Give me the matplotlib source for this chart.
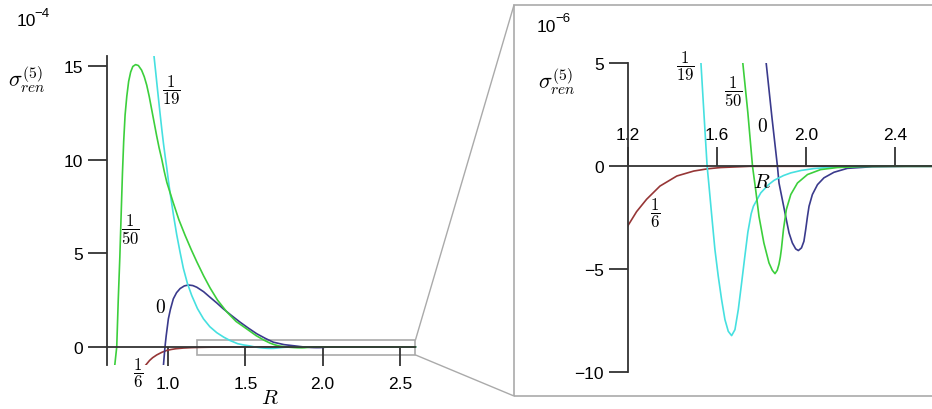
import numpy as np
import matplotlib
matplotlib.use('Agg')
import matplotlib.pyplot as plt
from matplotlib.patches import Rectangle, ConnectionPatch

plt.rcParams['font.family'] = ['Liberation Sans', 'DejaVu Sans']
plt.rcParams['mathtext.fontset'] = 'cm'

# sigma_ren^(5) vs R, values in units of 1e-6
r_050 = [0.655, 0.668, 0.678, 0.688, 0.697, 0.705, 0.713, 0.722, 0.733, 0.745,
         0.758, 0.772, 0.790, 0.808, 0.829, 0.846, 0.862, 0.878, 0.894, 0.910,
         0.926, 0.942, 0.959, 0.975, 0.992, 1.013, 1.034, 1.070, 1.110, 1.150,
         1.186, 1.230, 1.272, 1.320, 1.380, 1.440, 1.509, 1.570, 1.620, 1.660,
         1.690, 1.717, 1.740, 1.761, 1.775, 1.790, 1.812, 1.835, 1.850, 1.862,
         1.872, 1.880, 1.886, 1.891, 1.900, 1.913, 1.933, 1.963, 2.008, 2.067,
         2.142, 2.250, 2.400, 2.600]
s_050 = [-100, 0, 257, 480, 720, 930, 1100, 1240, 1340, 1420,
         1470, 1500, 1510, 1505, 1480, 1445, 1400, 1340, 1270, 1200,
         1130, 1065, 1005, 940, 880, 825, 770, 680, 597, 520,
         455, 380, 315, 250, 187, 136, 96, 60, 36, 20,
         11, 5.05, 2.6, 0, -1.13, -2.43, -3.72, -4.69, -5.05, -5.21,
         -5.05, -4.75, -4.4, -4.0, -3.07, -2.10, -1.37, -0.81, -0.40, -0.16,
         -0.06, -0.01, 0, 0]

r_019 = [0.909, 0.920, 0.930, 0.948, 0.960, 0.970, 0.981, 0.992, 1.002, 1.013,
         1.035, 1.056, 1.078, 1.099, 1.125, 1.153, 1.190, 1.229, 1.270, 1.315,
         1.360, 1.401, 1.450, 1.490, 1.529, 1.543, 1.557, 1.565, 1.578, 1.592,
         1.607, 1.622, 1.637, 1.652, 1.667, 1.682, 1.697, 1.712, 1.725, 1.740,
         1.755, 1.765, 1.798, 1.832, 1.858, 1.900, 1.933, 1.980, 2.037, 2.120,
         2.250, 2.600]
s_019 = [1556, 1470, 1390, 1250, 1160, 1090, 1020, 955, 890, 825,
         705, 600, 505, 420, 340, 275, 205, 150, 108, 76,
         52, 34, 17, 10, 5.05, 2.5, 0, -0.9, -2.43, -4.04,
         -5.34, -6.47, -7.44, -8.01, -8.22, -7.93, -6.96, -5.66, -4.5, -3.2,
         -2.3, -1.94, -1.29, -0.90, -0.68, -0.45, -0.32, -0.20, -0.11, -0.04,
         0, 0]

r_000 = [0.970, 0.974, 0.978, 0.982, 0.988, 0.995, 1.002, 1.015, 1.034, 1.055,
         1.078, 1.105, 1.131, 1.160, 1.186, 1.230, 1.272, 1.315, 1.358, 1.410,
         1.466, 1.520, 1.574, 1.630, 1.681, 1.750, 1.822, 1.848, 1.873, 1.880,
         1.895, 1.910, 1.925, 1.940, 1.955, 1.967, 1.981, 1.992, 2.000, 2.008,
         2.015, 2.030, 2.053, 2.082, 2.127, 2.187, 2.300, 2.450, 2.600]
s_000 = [-100, -60, -20, 15, 60, 105, 150, 200, 257, 290,
         312, 326, 331, 328, 319, 295, 265, 235, 203, 168,
         132, 100, 70, 45, 25, 12, 5.05, 2.4, 0, -0.81,
         -1.62, -2.43, -3.23, -3.72, -4.01, -4.09, -3.96, -3.64, -3.07, -2.43,
         -1.94, -1.37, -0.89, -0.56, -0.29, -0.10, -0.02, 0, 0]

r_016 = [0.853, 0.865, 0.880, 0.900, 0.927, 0.960, 0.992, 1.020, 1.050, 1.100,
         1.150, 1.200, 1.240, 1.285, 1.345, 1.421, 1.497, 1.560, 1.618, 1.750,
         2.600]
s_016 = [-100, -88, -73, -58, -43, -29, -19, -14, -10, -6.2,
         -4.1, -2.9, -2.2, -1.6, -0.96, -0.47, -0.23, -0.12, -0.06, 0,
         0]

curves = [
    (r_016, s_016, '#963636'),
    (r_000, s_000, '#3a3a8c'),
    (r_019, s_019, '#46e0e0'),
    (r_050, s_050, '#3ccf3c'),
]

fig = plt.figure(figsize=(9.32, 4.10), dpi=100)
W, H = 932.0, 410.0

# ---- left panel (units of 1e-4) ----
ax1 = fig.add_axes([107 / W, 44 / H, 311.5 / W, 309 / H])
for r, s, c in curves:
    ax1.plot(r, np.array(s) / 100.0, color=c, lw=1.2)
ax1.set_xlim(0.605, 2.62)
ax1.set_ylim(-0.97, 15.56)
ax1.spines['right'].set_visible(False)
ax1.spines['top'].set_visible(False)
ax1.spines['bottom'].set_position(('data', 0))
ax1.spines['bottom'].set_bounds(0.605, 2.6)
for sp in ['left', 'bottom']:
    ax1.spines[sp].set_linewidth(1.3)
    ax1.spines[sp].set_color('#333333')
ax1.set_xticks([1.0, 1.5, 2.0, 2.5])
ax1.set_xticklabels(['1.0', '1.5', '2.0', '2.5'])
ax1.set_yticks([0, 5, 10, 15])
ax1.set_yticklabels(['0', '5', '10', '15'])
ax1.tick_params(axis='x', length=14, width=1.3, color='#333333', pad=7, labelsize=12.5)
ax1.tick_params(axis='y', length=14, width=1.3, color='#333333', pad=3, labelsize=12.5)
ax1.patch.set_visible(False)

frac = 12
ax1.text(1.019, 13.78, r'$\dfrac{1}{19}$', fontsize=frac, ha='center', va='center')
ax1.text(0.754, 6.29, r'$\dfrac{1}{50}$', fontsize=frac, ha='center', va='center')
ax1.text(0.948, 2.13, r'$0$', fontsize=14, ha='center', va='center')
ax1.text(0.806, -1.35, r'$\dfrac{1}{6}$', fontsize=frac, ha='center', va='center')
ax1.text(1.66, -2.69, r'$R$', fontsize=15, ha='center', va='center')

# zoom box
ax1.add_patch(Rectangle((1.19, -0.43), 1.41, 0.79, fill=False, ec='#aaaaaa', lw=1.2,
                        clip_on=False, zorder=1))

fig.text(17 / W, 1 - 22 / H, '10', fontsize=12.5, ha='left', va='center')
fig.text(34 / W, 1 - 14 / H, '\u22124', fontsize=9.5, ha='left', va='center')
fig.text(27 / W, 1 - 80 / H, r'$\sigma^{(5)}_{ren}$', fontsize=16, ha='center', va='center')

# ---- right panel (units of 1e-6) ----
ax2 = fig.add_axes([627.7 / W, 36.7 / H, 311.5 / W, 309 / H])
for r, s, c in curves:
    ax2.plot(r, s, color=c, lw=1.2)
ax2.set_xlim(1.2, 2.6)
ax2.set_ylim(-10, 5)
ax2.spines['right'].set_visible(False)
ax2.spines['bottom'].set_visible(False)
ax2.spines['top'].set_position(('data', 0))
ax2.xaxis.tick_top()
for sp in ['left', 'top']:
    ax2.spines[sp].set_linewidth(1.3)
    ax2.spines[sp].set_color('#333333')
ax2.set_xticks([1.2, 1.6, 2.0, 2.4])
ax2.set_xticklabels(['1.2', '1.6', '2.0', '2.4'])
ax2.set_yticks([-10, -5, 0, 5])
ax2.set_yticklabels(['\u221210', '\u22125', '0', '5'])
ax2.tick_params(axis='x', length=14, width=1.3, color='#333333', pad=3.5, labelsize=12.5)
ax2.tick_params(axis='y', length=14, width=1.3, color='#333333', pad=3, labelsize=12.5)
ax2.patch.set_visible(False)

ax2.text(1.461, 4.88, r'$\dfrac{1}{19}$', fontsize=frac, ha='center', va='center')
ax2.text(1.675, 3.67, r'$\dfrac{1}{50}$', fontsize=frac, ha='center', va='center')
ax2.text(1.805, 1.97, r'$0$', fontsize=14, ha='center', va='center')
ax2.text(1.323, -2.23, r'$\dfrac{1}{6}$', fontsize=frac, ha='center', va='center')
ax2.text(1.804, -0.76, r'$R$', fontsize=15, ha='center', va='center')

fig.text(537 / W, 1 - 27 / H, '10', fontsize=12.5, ha='left', va='center')
fig.text(555 / W, 1 - 19 / H, '\u22126', fontsize=9.5, ha='left', va='center')
fig.text(557 / W, 1 - 82 / H, r'$\sigma^{(5)}_{ren}$', fontsize=16, ha='center', va='center')

# frame around the magnified panel and the lines joining it to the box
fig.add_artist(Rectangle((514 / W, 13 / H), 0.6, 391 / H, transform=fig.transFigure,
                         fill=False, ec='#aaaaaa', lw=1.2))
for ya, yb in [(0.36, 1 - 6 / H), (-0.43, 13 / H)]:
    con = ConnectionPatch(xyA=(2.6, ya), coordsA=ax1.transData,
                          xyB=(514 / W, yb), coordsB=fig.transFigure,
                          color='#aaaaaa', lw=1.0)
    fig.add_artist(con)

fig.savefig('out.png', dpi=100, facecolor='white')
